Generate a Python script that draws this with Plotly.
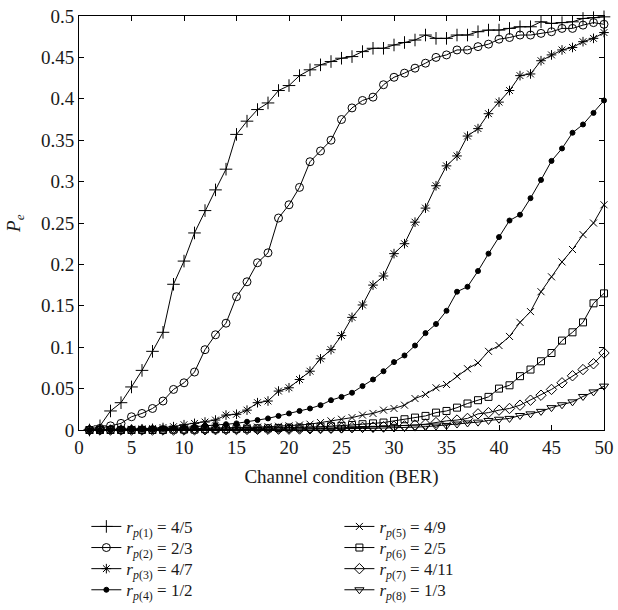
import plotly.graph_objects as go

x = list(range(1, 51))

s1 = [0.0, 0.005, 0.023, 0.033, 0.052, 0.072, 0.095, 0.118, 0.176, 0.204,
      0.238, 0.265, 0.290, 0.315, 0.357, 0.373, 0.387, 0.395, 0.410, 0.416,
      0.428, 0.435, 0.441, 0.445, 0.449, 0.451, 0.457, 0.461, 0.461, 0.465,
      0.468, 0.471, 0.477, 0.473, 0.473, 0.477, 0.477, 0.481, 0.483, 0.483,
      0.485, 0.487, 0.487, 0.493, 0.491, 0.492, 0.493, 0.497, 0.498, 0.499]
s2 = [0.0, 0.002, 0.005, 0.008, 0.016, 0.020, 0.026, 0.035, 0.049, 0.057,
      0.070, 0.097, 0.115, 0.129, 0.161, 0.179, 0.202, 0.214, 0.256, 0.272,
      0.293, 0.324, 0.337, 0.350, 0.375, 0.389, 0.398, 0.402, 0.417, 0.426,
      0.431, 0.437, 0.443, 0.450, 0.453, 0.459, 0.459, 0.463, 0.466, 0.472,
      0.474, 0.477, 0.477, 0.479, 0.481, 0.485, 0.485, 0.489, 0.492, 0.490]
s3 = [0.0, 0.0, 0.0005, 0.001, 0.001, 0.0015, 0.002, 0.003, 0.004, 0.0064,
      0.008, 0.0096, 0.012, 0.018, 0.019, 0.024, 0.033, 0.035, 0.047, 0.051,
      0.061, 0.071, 0.086, 0.097, 0.114, 0.136, 0.151, 0.175, 0.186, 0.213,
      0.225, 0.251, 0.268, 0.295, 0.319, 0.331, 0.355, 0.364, 0.382, 0.396,
      0.410, 0.428, 0.430, 0.446, 0.453, 0.459, 0.462, 0.469, 0.473, 0.480]
s4 = [0.0, 0.0, 0.0, 0.0005, 0.0005, 0.001, 0.001, 0.0015, 0.002, 0.003,
      0.004, 0.005, 0.006, 0.007, 0.008, 0.010, 0.012, 0.014, 0.017, 0.020,
      0.023, 0.026, 0.030, 0.036, 0.040, 0.045, 0.053, 0.061, 0.071, 0.082,
      0.090, 0.102, 0.117, 0.128, 0.144, 0.167, 0.173, 0.192, 0.213, 0.233,
      0.253, 0.260, 0.280, 0.302, 0.325, 0.340, 0.359, 0.369, 0.383, 0.398]
s5 = [0.0, 0.0, 0.0, 0.0, 0.0, 0.0005, 0.0005, 0.001, 0.001, 0.0015,
      0.0015, 0.002, 0.002, 0.0025, 0.003, 0.003, 0.0035, 0.004, 0.0045, 0.005,
      0.006, 0.007, 0.009, 0.011, 0.013, 0.015, 0.018, 0.020, 0.024, 0.026,
      0.030, 0.038, 0.043, 0.051, 0.055, 0.065, 0.074, 0.081, 0.095, 0.102,
      0.113, 0.130, 0.143, 0.167, 0.185, 0.203, 0.218, 0.236, 0.250, 0.272]
s6 = [0.0, 0.0, 0.0, 0.0, 0.0, 0.0, 0.0, 0.0, 0.0005, 0.0005,
      0.0005, 0.001, 0.001, 0.001, 0.0015, 0.0015, 0.002, 0.002, 0.0025, 0.003,
      0.003, 0.0035, 0.004, 0.0045, 0.005, 0.006, 0.007, 0.008, 0.009, 0.011,
      0.013, 0.015, 0.017, 0.021, 0.023, 0.027, 0.032, 0.036, 0.040, 0.050,
      0.054, 0.065, 0.073, 0.083, 0.093, 0.108, 0.118, 0.130, 0.153, 0.165]
s7 = [0.0, 0.0, 0.0, 0.0, 0.0, 0.0, 0.0, 0.0, 0.0, 0.0,
      0.0002, 0.0003, 0.0004, 0.0005, 0.0006, 0.0007, 0.0008, 0.0009, 0.001, 0.001,
      0.0012, 0.0015, 0.0018, 0.002, 0.0025, 0.003, 0.0032, 0.0035, 0.004, 0.0045,
      0.005, 0.006, 0.007, 0.009, 0.011, 0.012, 0.014, 0.0195, 0.021, 0.024,
      0.026, 0.030, 0.036, 0.042, 0.049, 0.057, 0.0655, 0.073, 0.080, 0.093]
s8 = [0.0, 0.0, 0.0, 0.0, 0.0, 0.0, 0.0, 0.0, 0.0, 0.0,
      0.0, 0.0001, 0.0002, 0.0003, 0.0004, 0.0005, 0.0006, 0.0007, 0.0008, 0.0009,
      0.001, 0.001, 0.0011, 0.0012, 0.0013, 0.0015, 0.0018, 0.002, 0.0022, 0.0025,
      0.003, 0.0035, 0.004, 0.0048, 0.0055, 0.0072, 0.0085, 0.0095, 0.0115, 0.013,
      0.014, 0.0175, 0.0195, 0.0225, 0.027, 0.0305, 0.034, 0.0405, 0.046, 0.053]

series = [s1, s2, s3, s4, s5, s6, s7, s8]
labels = ["<i>r</i><sub><i>p</i>(1)</sub> = 4/5",
          "<i>r</i><sub><i>p</i>(2)</sub> = 2/3",
          "<i>r</i><sub><i>p</i>(3)</sub> = 4/7",
          "<i>r</i><sub><i>p</i>(4)</sub> = 1/2",
          "<i>r</i><sub><i>p</i>(5)</sub> = 4/9",
          "<i>r</i><sub><i>p</i>(6)</sub> = 2/5",
          "<i>r</i><sub><i>p</i>(7)</sub> = 4/11",
          "<i>r</i><sub><i>p</i>(8)</sub> = 1/3"]
x_ticks = [0, 5, 10, 15, 20, 25, 30, 35, 40, 45, 50]
y_ticks = [0, 0.05, 0.1, 0.15, 0.2, 0.25, 0.3, 0.35, 0.4, 0.45, 0.5]

symbols = ["cross-thin", "circle-open", "asterisk", "circle",
           "x-thin", "square-open", "diamond-open", "triangle-down-open"]
sizes = [9, 8, 8, 5, 7, 7, 8, 8]

FONT = "Liberation Serif"
INK = "#1a1a1a"

legend_names = ["legend"] + ["legend%d" % k for k in range(2, 9)]

fig = go.Figure()
for i, (ys, lab, sym, sz) in enumerate(zip(series, labels, symbols, sizes)):
    fig.add_trace(go.Scatter(
        x=x, y=ys, name=lab, mode="lines+markers",
        line=dict(color="black", width=1),
        marker=dict(symbol=sym, size=sz, color="black",
                    line=dict(color="black", width=1)),
        cliponaxis=False,
        legend=legend_names[i],
    ))

axis_common = dict(
    showgrid=False, zeroline=False, showline=True, linecolor="black",
    linewidth=1, mirror="ticks", ticks="inside", ticklen=5,
    tickcolor="black", tickwidth=1,
    tickfont=dict(family=FONT, size=19, color=INK),
)

# legend layout: two columns of four rows below the plot
row_y = [-0.234, -0.285, -0.336, -0.387]
col_x = [0.014, 0.496]
legend_layouts = {}
for i, name in enumerate(legend_names):
    legend_layouts[name] = dict(
        x=col_x[i // 4], y=row_y[i % 4], xanchor="left", yanchor="middle",
        bgcolor="rgba(0,0,0,0)", itemwidth=30, tracegroupgap=0,
        font=dict(family=FONT, size=17, color=INK))

fig.update_layout(
    width=618, height=610,
    margin=dict(l=79, r=14, t=16, b=180, autoexpand=False),
    paper_bgcolor="white", plot_bgcolor="white",
    font=dict(family=FONT, size=18, color=INK),
    xaxis=dict(range=[0, 50], tickvals=x_ticks,
               title=dict(text="Channel condition (BER)", standoff=12,
                          font=dict(family=FONT, size=19, color=INK)),
               **axis_common),
    yaxis=dict(range=[0, 0.5], tickvals=y_ticks, **axis_common),
    annotations=[dict(text="<i>P</i><sub><i>e</i></sub>", textangle=-90,
                      xref="paper", yref="paper", x=-0.122, y=0.5,
                      xanchor="center", yanchor="middle", showarrow=False,
                      font=dict(family=FONT, size=19, color=INK))],
    showlegend=True,
    **legend_layouts,
)

fig.write_html("out.html", config={"displayModeBar": False},
               post_script="document.body.style.margin='0';document.body.style.overflow='hidden';")
